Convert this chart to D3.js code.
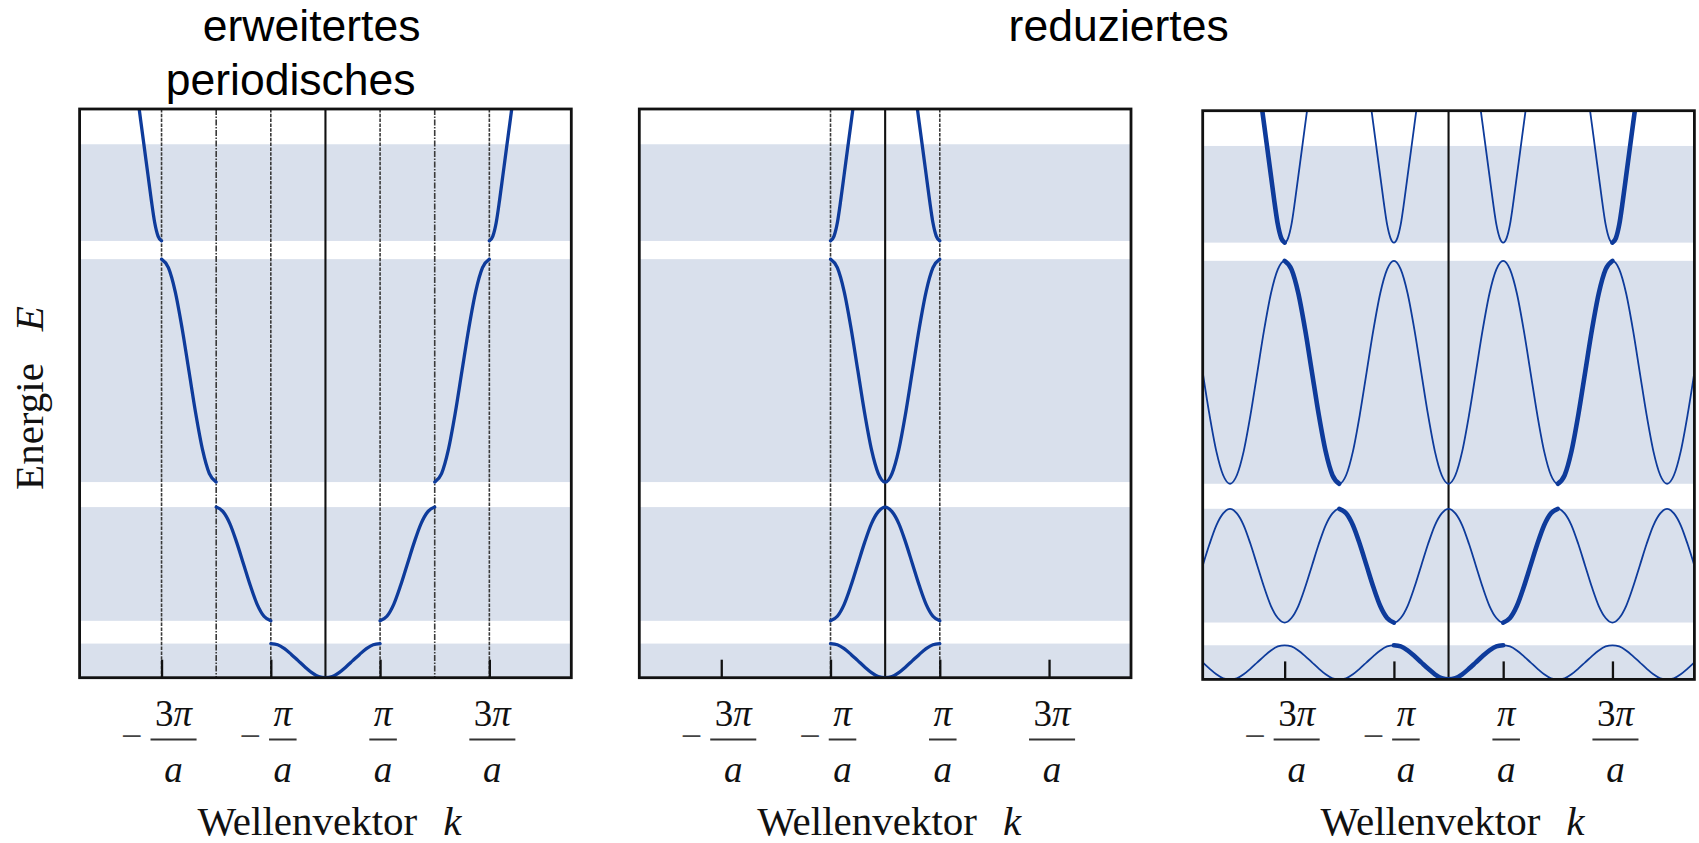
<!DOCTYPE html>
<html>
<head>
<meta charset="utf-8">
<script src="https://cdn.jsdelivr.net/npm/d3@7"></script>
<style>
  html, body { margin: 0; padding: 0; background: #fff; }
  svg { display: block; }
</style>
</head>
<body>
<svg id="chart" width="1699" height="843"></svg>
<script>
// Band structure of a 1D crystal in three zone schemes
// k in units of π/a, energy in arbitrary units (0 … 10 over the frame height)

const kTicks = [-3, -1, 1, 3];
const tickNumerators = ["3π", "π", "π", "3π"];
const tickDenominator = "a";

// allowed energy bands (shaded)
const bandBottom = [0, 1.0, 3.44, 7.68];
const bandTop    = [0.6, 3.0, 7.36, 9.38];

// band energies sampled over the reduced wave vector |k| (π/a)
const rGrid  = [0, 0.125, 0.25, 0.375, 0.5, 0.625, 0.75, 0.875, 1];
const band1E = [0, 0.02, 0.09, 0.19, 0.30, 0.41, 0.51, 0.58, 0.6];
const band2E = [3.0, 2.92, 2.71, 2.38, 2.0, 1.62, 1.29, 1.08, 1.0];
const band3E = [3.44, 3.59, 4.01, 4.65, 5.40, 6.15, 6.79, 7.21, 7.36];
const rGrid4 = [0.5, 0.5625, 0.625, 0.6875, 0.75, 0.8125, 0.875, 0.9375, 1];
const band4E = [10.65, 10.2, 9.75, 9.3, 8.85, 8.4, 8.0, 7.76, 7.68];

// Brillouin zones of each band in the extended scheme
const band1Zones = [[-1, 1]];
const band2Zones = [[-2, -1], [1, 2]];
const band3Zones = [[-3, -2], [2, 3]];
const band4Zones = [[-4, -3], [3, 4]];

const extendedBoundaries = [-3, -2, -1, 1, 2, 3];
const reducedBoundaries = [-1, 1];

const kDomain = [-4.5, 4.5];
const eDomain = [0, 10];

const bands = [
  { r: rGrid,  E: band1E, zones: band1Zones },
  { r: rGrid,  E: band2E, zones: band2Zones },
  { r: rGrid,  E: band3E, zones: band3Zones },
  { r: rGrid4, E: band4E, zones: band4Zones }
];

const svg = d3.select("#chart");
const panelW = 491.7, panelH = 568.7;
const panels = [
  { left: 79.6,   top: 109,   scheme: "extended" },
  { left: 639.3,  top: 109,   scheme: "reduced" },
  { left: 1202.7, top: 110.7, scheme: "periodic" }
];

const BLUE = "#0e3b9b";
const SHADE = "#d9e0ec";
const SERIF = "'Liberation Serif', 'Times New Roman', serif";
const SANS = "'Liberation Sans', Arial, sans-serif";

// energy of a band at wave vector k, folded back into the first zone
function energyAt(band, k) {
  const r = Math.abs(k - 2 * Math.round(k / 2));
  const i = band.r.findIndex(v => Math.abs(v - r) < 1e-6);
  return i < 0 ? null : band.E[i];
}

function samples(band, lo, hi) {
  const step = band.r[1] - band.r[0];
  const a = Math.max(lo, kDomain[0]), b = Math.min(hi, kDomain[1]);
  const n = Math.round((b - a) / step);
  const pts = [];
  for (let i = 0; i <= n; i++) {
    const k = a + i * step;
    pts.push({ k, E: energyAt(band, k) });
  }
  return pts;
}

const defs = svg.append("defs");

panels.forEach(p => {
  const x = d3.scaleLinear().domain(kDomain).range([p.left, p.left + panelW]);
  const y = d3.scaleLinear().domain(eDomain).range([p.top + panelH, p.top]);
  const g = svg.append("g").attr("class", "panel-" + p.scheme);

  const clipId = "clip-" + p.scheme;
  defs.append("clipPath").attr("id", clipId)
    .append("rect").attr("x", p.left).attr("y", p.top)
    .attr("width", panelW).attr("height", panelH);

  const inner = g.append("g").attr("clip-path", `url(#${clipId})`);

  // allowed bands
  inner.selectAll("rect.band").data(bandBottom).join("rect")
    .attr("class", "band")
    .attr("x", p.left).attr("width", panelW)
    .attr("y", (d, i) => y(bandTop[i]))
    .attr("height", (d, i) => y(d) - y(bandTop[i]))
    .attr("fill", SHADE);

  // zone boundaries
  const bounds = p.scheme === "extended" ? extendedBoundaries
               : p.scheme === "reduced" ? reducedBoundaries : [];
  inner.selectAll("line.zone").data(bounds).join("line")
    .attr("class", "zone")
    .attr("x1", d => x(d)).attr("x2", d => x(d))
    .attr("y1", p.top).attr("y2", p.top + panelH)
    .attr("stroke", "#3a3a3a").attr("stroke-width", 1.6)
    .attr("stroke-dasharray", d => Math.abs(d) === 2 ? "6,1.5,1.5,1.5" : "3.5,1.3");

  // k = 0
  inner.append("line")
    .attr("x1", x(0)).attr("x2", x(0))
    .attr("y1", p.top).attr("y2", p.top + panelH)
    .attr("stroke", "#111").attr("stroke-width", 2.1);

  const line = d3.line()
    .defined(d => d.E !== null)
    .x(d => x(d.k)).y(d => y(d.E))
    .curve(d3.curveMonotoneX);

  const curveG = inner.append("g").attr("fill", "none").attr("stroke", BLUE)
    .attr("stroke-linecap", "round").attr("stroke-linejoin", "round");

  bands.forEach(band => {
    if (p.scheme === "extended") {
      band.zones.forEach(z => {
        curveG.append("path").attr("d", line(samples(band, z[0], z[1])))
          .attr("stroke-width", 3.3);
      });
    } else if (p.scheme === "reduced") {
      curveG.append("path").attr("d", line(samples(band, -1, 1)))
        .attr("stroke-width", 3.3);
    } else {
      curveG.append("path").attr("d", line(samples(band, kDomain[0], kDomain[1])))
        .attr("stroke-width", 1.8);
      band.zones.forEach(z => {
        curveG.append("path").attr("d", line(samples(band, z[0], z[1])))
          .attr("stroke-width", 4.6);
      });
    }
  });

  // ticks along the bottom edge, pointing inward
  const axis = g.append("g")
    .attr("transform", `translate(0,${p.top + panelH})`)
    .call(d3.axisBottom(x).tickValues(kTicks).tickSize(-18).tickFormat(() => ""));
  axis.select(".domain").remove();
  axis.selectAll(".tick line").attr("stroke", "#111").attr("stroke-width", 2.3);

  // frame
  g.append("rect")
    .attr("x", p.left).attr("y", p.top)
    .attr("width", panelW).attr("height", panelH)
    .attr("fill", "none").attr("stroke", "#111").attr("stroke-width", 2.8);

  // fraction tick labels  ±nπ / a
  kTicks.forEach((v, i) => {
    const neg = v < 0;
    const cx = x(v) + (neg ? 12 : 3);
    const lab = g.append("g").attr("font-family", SERIF).attr("fill", "#111");
    const num = lab.append("text")
      .attr("x", cx).attr("y", 726)
      .attr("text-anchor", "middle").attr("font-size", 37);
    const s = tickNumerators[i];
    const digits = s.replace("π", "");
    if (digits) num.append("tspan").text(digits);
    num.append("tspan").attr("font-style", "italic").text("π");
    const den = lab.append("text")
      .attr("x", cx).attr("y", 781.5)
      .attr("text-anchor", "middle").attr("font-size", 37)
      .attr("font-style", "italic").text(tickDenominator);
    const w = Math.max(num.node().getComputedTextLength(),
                       den.node().getComputedTextLength()) + 9;
    lab.append("line")
      .attr("x1", cx - w / 2).attr("x2", cx + w / 2)
      .attr("y1", 739.5).attr("y2", 739.5)
      .attr("stroke", "#333").attr("stroke-width", 2);
    if (neg) {
      lab.append("text")
        .attr("x", cx - w / 2 - 8).attr("y", 749)
        .attr("text-anchor", "end").attr("font-size", 38)
        .attr("fill", "#444")
        .text("−");
    }
  });

  // x-axis title
  const xt = g.append("text")
    .attr("x", x(0) + 4).attr("y", 835)
    .attr("text-anchor", "middle")
    .attr("font-family", SERIF).attr("font-size", 41).attr("fill", "#111");
  xt.append("tspan").text("Wellenvektor");
  xt.append("tspan").attr("dx", 26).attr("font-style", "italic").text("k");
});

// y-axis title
const yt = svg.append("text")
  .attr("transform", "translate(43,398) rotate(-90)")
  .attr("text-anchor", "middle")
  .attr("font-family", SERIF).attr("font-size", 41).attr("fill", "#111");
yt.append("tspan").text("Energie");
yt.append("tspan").attr("dx", 32).attr("font-style", "italic").text("E");

// scheme titles
const titleG = svg.append("g").attr("font-family", SANS)
  .attr("font-size", 44.5).attr("fill", "#000");
titleG.append("text").attr("x", 202.8).attr("y", 40.7).text("erweitertes");
titleG.append("text").attr("x", 165.7).attr("y", 95).text("periodisches");
titleG.append("text").attr("x", 1008.6).attr("y", 40.7).text("reduziertes");
</script>
</body>
</html>
